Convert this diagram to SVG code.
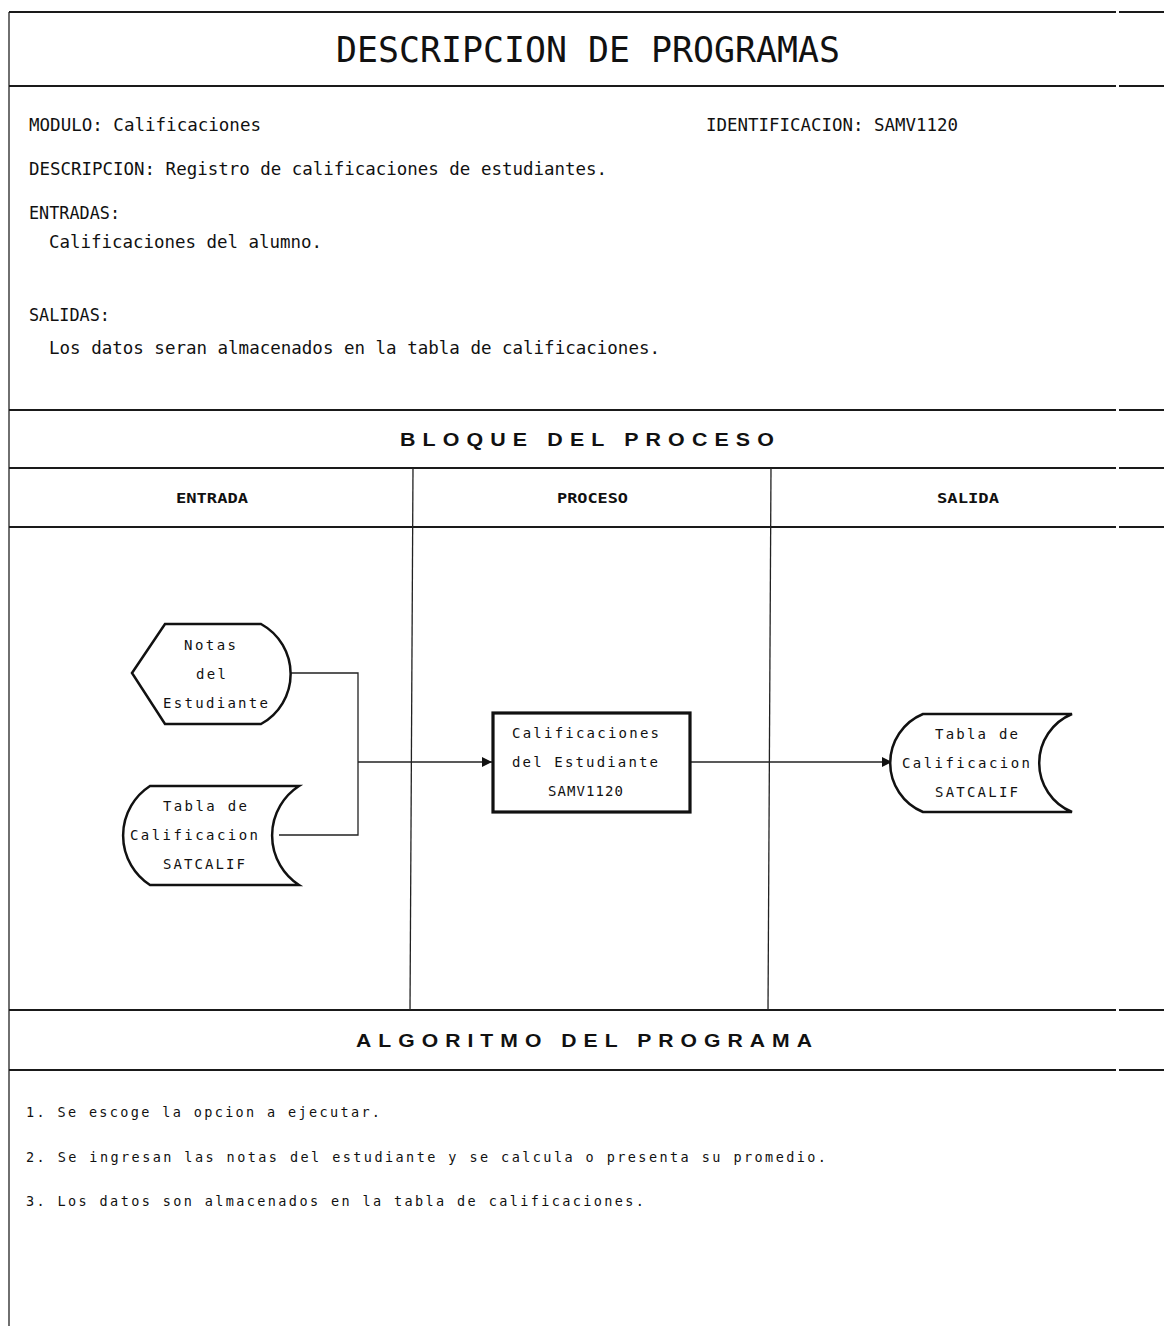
<svg xmlns="http://www.w3.org/2000/svg" width="1164" height="1326" viewBox="0 0 1164 1326">
<style>
.bg{fill:#fff}
.rule{stroke:#1a1a1a;stroke-width:2;fill:none}
.thin{stroke:#222;stroke-width:1.3;fill:none}
.node{fill:#fff;stroke:#111;stroke-width:2.5}
.box{fill:#fff;stroke:#111;stroke-width:3.2}
.conn{stroke:#222;stroke-width:1.3;fill:none}
.t{font-family:"DejaVu Sans Mono","Liberation Mono",monospace;fill:#111}
.title{font-size:35px}
.lbl{font-size:17px}
.hdr{font-family:"Liberation Sans",Arial,sans-serif;font-weight:bold;font-size:18px;letter-spacing:6px;fill:#111}
.col{font-size:14px;font-weight:bold}
.nt{font-size:14px}
.alg{font-size:13.5px}
</style>
<defs>
<marker id="arr" markerWidth="11" markerHeight="11" refX="10" refY="5.5" orient="auto" markerUnits="userSpaceOnUse">
<path d="M0,0.5 L10,5.5 L0,10.5 Z" fill="#111"/>
</marker>
</defs>
<rect class="bg" x="0" y="0" width="1164" height="1326"/>

<g id="frame">
<line class="thin" x1="9" y1="12" x2="9" y2="1326"/>
<line class="rule" x1="9" y1="12" x2="1116" y2="12"/><line class="rule" x1="1119" y1="12" x2="1164" y2="12"/>
<line class="rule" x1="9" y1="86" x2="1116" y2="86"/><line class="rule" x1="1119" y1="86" x2="1164" y2="86"/>
<line class="rule" x1="9" y1="410" x2="1116" y2="410"/><line class="rule" x1="1119" y1="410" x2="1164" y2="410"/>
<line class="rule" x1="9" y1="468" x2="1116" y2="468"/><line class="rule" x1="1119" y1="468" x2="1164" y2="468"/>
<line class="rule" x1="9" y1="527" x2="1116" y2="527"/><line class="rule" x1="1119" y1="527" x2="1164" y2="527"/>
<line class="rule" x1="9" y1="1010" x2="1116" y2="1010"/><line class="rule" x1="1119" y1="1010" x2="1164" y2="1010"/>
<line class="rule" x1="9" y1="1070" x2="1116" y2="1070"/><line class="rule" x1="1119" y1="1070" x2="1164" y2="1070"/>
<line class="thin" x1="413" y1="468" x2="410" y2="1010"/>
<line class="thin" x1="771" y1="468" x2="768" y2="1010"/>
</g>

<g id="header-texts">
<text class="t title" x="336" y="62" textLength="504" lengthAdjust="spacingAndGlyphs">DESCRIPCION DE PROGRAMAS</text>
<text class="t lbl" x="29" y="131" textLength="232" lengthAdjust="spacingAndGlyphs">MODULO: Calificaciones</text>
<text class="t lbl" x="706" y="131" textLength="252" lengthAdjust="spacingAndGlyphs">IDENTIFICACION: SAMV1120</text>
<text class="t lbl" x="29" y="175" textLength="578" lengthAdjust="spacingAndGlyphs">DESCRIPCION: Registro de calificaciones de estudiantes.</text>
<text class="t lbl" x="29" y="219" textLength="91" lengthAdjust="spacingAndGlyphs">ENTRADAS:</text>
<text class="t lbl" x="49" y="248" textLength="273" lengthAdjust="spacingAndGlyphs">Calificaciones del alumno.</text>
<text class="t lbl" x="29" y="321" textLength="81" lengthAdjust="spacingAndGlyphs">SALIDAS:</text>
<text class="t lbl" x="49" y="354" textLength="611" lengthAdjust="spacingAndGlyphs">Los datos seran almacenados en la tabla de calificaciones.</text>
<text class="hdr" x="400" y="446" textLength="381" lengthAdjust="spacingAndGlyphs">BLOQUE DEL PROCESO</text>
<text class="t col" x="176" y="503" textLength="72" lengthAdjust="spacingAndGlyphs">ENTRADA</text>
<text class="t col" x="557" y="503" textLength="71" lengthAdjust="spacingAndGlyphs">PROCESO</text>
<text class="t col" x="937" y="503" textLength="62" lengthAdjust="spacingAndGlyphs">SALIDA</text>
<text class="hdr" x="356" y="1047" textLength="463" lengthAdjust="spacingAndGlyphs">ALGORITMO DEL PROGRAMA</text>
<text class="t alg" x="26" y="1117" textLength="354" lengthAdjust="spacing">1. Se escoge la opcion a ejecutar.</text>
<text class="t alg" x="26" y="1162" textLength="800" lengthAdjust="spacing">2. Se ingresan las notas del estudiante y se calcula o presenta su promedio.</text>
<text class="t alg" x="26" y="1206" textLength="618" lengthAdjust="spacing">3. Los datos son almacenados en la tabla de calificaciones.</text>
</g>

<g id="connectors">
<polyline class="conn" points="291,673 358,673 358,835 279,835"/>
<line class="conn" x1="358" y1="762" x2="492" y2="762" marker-end="url(#arr)"/>
<line class="conn" x1="690" y1="762" x2="892" y2="762" marker-end="url(#arr)"/>
</g>

<g id="node-notas">
<path class="node" d="M132,673 L165,624 L261,624 A57,57 0 0 1 261,724 L165,724 Z"/>
<text class="t nt" x="184" y="650" textLength="52" lengthAdjust="spacing">Notas</text>
<text class="t nt" x="196" y="679" textLength="30" lengthAdjust="spacing">del</text>
<text class="t nt" x="163" y="708" textLength="105" lengthAdjust="spacing">Estudiante</text>
</g>

<g id="node-tabla-entrada">
<path class="node" d="M150,786 L299,786 A59,59 0 0 0 299,885 L150,885 A59,59 0 0 1 150,786 Z"/>
<text class="t nt" x="163" y="811" textLength="84" lengthAdjust="spacing">Tabla de</text>
<text class="t nt" x="130" y="840" textLength="128" lengthAdjust="spacing">Calificacion</text>
<text class="t nt" x="163" y="869" textLength="82" lengthAdjust="spacing">SATCALIF</text>
</g>

<g id="node-proceso">
<rect class="box" x="493" y="713" width="197" height="99"/>
<text class="t nt" x="512" y="738" textLength="147" lengthAdjust="spacing">Calificaciones</text>
<text class="t nt" x="512" y="767" textLength="146" lengthAdjust="spacing">del Estudiante</text>
<text class="t nt" x="548" y="796" textLength="75" lengthAdjust="spacing">SAMV1120</text>
</g>

<g id="node-tabla-salida">
<path class="node" d="M923,714 L1072,714 A53,53 0 0 0 1072,812 L923,812 A53,53 0 0 1 923,714 Z"/>
<text class="t nt" x="935" y="739" textLength="83" lengthAdjust="spacing">Tabla de</text>
<text class="t nt" x="902" y="768" textLength="128" lengthAdjust="spacing">Calificacion</text>
<text class="t nt" x="935" y="797" textLength="83" lengthAdjust="spacing">SATCALIF</text>
</g>
</svg>
